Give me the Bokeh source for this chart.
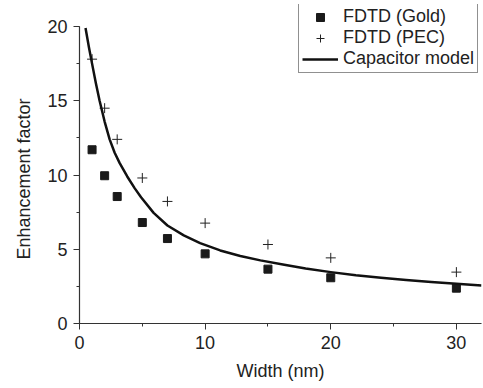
from bokeh.plotting import figure
from bokeh.models import Range1d, SingleIntervalTicker, Legend, LegendItem, Title
from bokeh.embed import file_html
from bokeh.resources import INLINE

# Data
width_nm = [1, 2, 3, 5, 7, 10, 15, 20, 30]
gold = [11.7, 9.95, 8.55, 6.8, 5.72, 4.69, 3.66, 3.08, 2.38]
pec = [17.8, 14.5, 12.4, 9.8, 8.22, 6.76, 5.32, 4.42, 3.46]

# Capacitor model curve
model_x = [0.48, 0.75, 1.0, 1.3, 1.6, 2.0, 2.4, 2.8, 3.2, 3.8, 4.4, 4.9, 5.9, 7.0,
           8.3, 9.6, 11.2, 12.8, 14.4, 16.3, 18.0, 20.0, 22.0, 24.0, 26.0, 28.0, 30.0, 32.0]
model_y = [19.9, 18.6, 17.5, 16.2, 15.0, 13.6, 12.4, 11.5, 10.8, 9.9, 9.1, 8.5, 7.45, 6.6,
           5.93, 5.41, 4.92, 4.55, 4.25, 3.95, 3.7, 3.46, 3.25, 3.08, 2.93, 2.8, 2.68, 2.56]

y_ticks_end = 20
x_end = 32

FONT = "Liberation Sans"
TXT = "#222222"

# frame extends a little above y=20 so the legend (which sits above the axis top) is not clipped
y_top = y_ticks_end * 319 / 297

p = figure(width=483, height=388, output_backend="svg", toolbar_location=None,
           x_range=Range1d(0, x_end), y_range=Range1d(0, y_top),
           min_border_left=79, min_border_right=2, min_border_top=4, min_border_bottom=65)
p.outline_line_color = None
p.xgrid.visible = False
p.ygrid.visible = False
p.background_fill_color = "white"
p.border_fill_color = "white"

r_gold = p.scatter(width_nm, gold, marker="square", size=8, fill_color="#1a1a1a", line_color="#1a1a1a")
r_pec = p.scatter(width_nm, pec, marker="cross", size=10, line_color="#222222", line_width=1)
r_model = p.line(model_x, model_y, line_color="#111111", line_width=2.5, line_join="round")

p.xaxis.ticker = SingleIntervalTicker(interval=10, num_minor_ticks=2)
p.yaxis.ticker = SingleIntervalTicker(interval=5, num_minor_ticks=2)
p.yaxis.bounds = (0, y_ticks_end)

for ax in (p.xaxis[0], p.yaxis[0]):
    ax.axis_line_color = "#333333"
    ax.axis_line_width = 1.2
    ax.major_tick_line_color = "#333333"
    ax.minor_tick_line_color = "#333333"
    ax.major_tick_in = 0
    ax.minor_tick_in = 0
    ax.major_tick_out = 6
    ax.minor_tick_out = 3
    ax.major_label_text_font = FONT
    ax.major_label_text_font_size = "18px"
    ax.major_label_text_color = TXT
    ax.axis_label_text_font = FONT
    ax.axis_label_text_font_size = "18px"
    ax.axis_label_text_font_style = "normal"
    ax.axis_label_text_color = TXT

p.xaxis.axis_label = "Width (nm)"
p.xaxis.major_label_standoff = 6
p.yaxis.major_label_standoff = 6
p.xaxis.axis_label_standoff = 9

# y label as a side title so it can be centred on the 0..20 span rather than the whole frame
ylab = Title(text="Enhancement factor", align="left", offset=64, standoff=22,
             text_font=FONT, text_font_size="18px", text_font_style="normal",
             text_color=TXT)
p.add_layout(ylab, "left")

legend = Legend(items=[
    LegendItem(label="FDTD (Gold)", renderers=[r_gold]),
    LegendItem(label="FDTD (PEC)", renderers=[r_pec]),
    LegendItem(label="Capacitor model", renderers=[r_model]),
], location=(219, 250))
legend.label_text_font = FONT
legend.label_text_font_size = "18px"
legend.label_text_color = TXT
legend.border_line_color = "#222222"
legend.border_line_width = 1
legend.background_fill_color = "white"
legend.background_fill_alpha = 1
legend.padding = 3
legend.spacing = 0
legend.margin = 0
legend.label_height = 20
legend.glyph_height = 20
legend.glyph_width = 36
legend.label_standoff = 5
p.add_layout(legend, "center")

open("out.html", "w").write(file_html(p, INLINE))
